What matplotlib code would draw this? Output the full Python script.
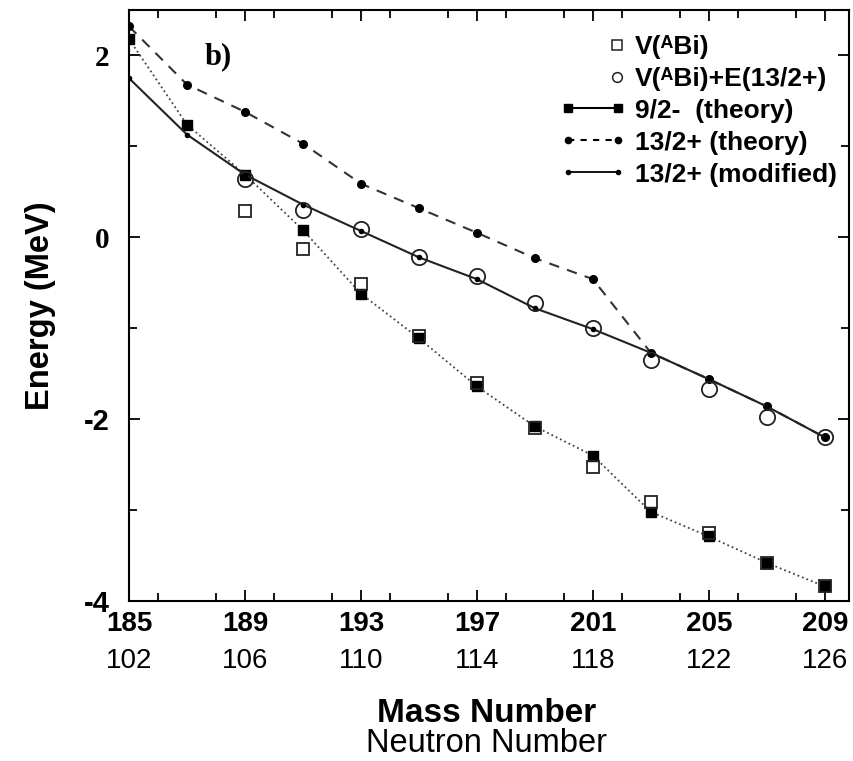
import numpy as np
import matplotlib
matplotlib.use("Agg")
import matplotlib.pyplot as plt
import matplotlib.transforms as mtransforms
from matplotlib.lines import Line2D
from matplotlib.legend_handler import HandlerLine2D
from matplotlib.ticker import MultipleLocator

plt.rcParams["font.family"] = ["Liberation Sans", "DejaVu Sans"]

# mass numbers of the Bi isotopes and the matching neutron numbers
mass = [185, 187, 189, 191, 193, 195, 197, 199, 201, 203, 205, 207, 209]
mass_exp = [189, 191, 193, 195, 197, 199, 201, 203, 205, 207, 209]
tick_mass = [185, 189, 193, 197, 201, 205, 209]
tick_neutron = [102, 106, 110, 114, 118, 122, 126]

# energies in MeV
e_92_theory = [2.18, 1.24, 0.69, 0.08, -0.62, -1.11, -1.64, -2.08, -2.40,
               -3.02, -3.29, -3.58, -3.84]
e_132_theory = [2.32, 1.68, 1.38, 1.03, 0.59, 0.32, 0.05, -0.23, -0.46,
                -1.27, -1.56, -1.86, -2.20]
e_132_mod = [1.75, 1.13, 0.69, 0.36, 0.07, -0.22, -0.46, -0.78, -1.01,
             -1.27, -1.56, -1.86, -2.20]
v_bi = [0.29, -0.13, -0.51, -1.09, -1.60, -2.10, -2.53, -2.91, -3.25,
        -3.58, -3.83]
v_bi_e = [0.64, 0.30, 0.09, -0.22, -0.43, -0.72, -1.00, -1.35, -1.67,
          -1.98, -2.20]

fig = plt.figure(figsize=(8.54, 7.61), dpi=100)
ax = fig.add_axes([0.151, 0.2102, 0.843, 0.7767])

ax.plot(mass, e_92_theory, ls=":", color="#444444", lw=1.3,
        marker="s", ms=7, mfc="black", mec="black", zorder=3)
ax.plot(mass, e_132_theory, ls=(0, (5, 4)), color="#333333", lw=1.5,
        marker="o", ms=5.5, mfc="black", mec="black", zorder=3)
ax.plot(mass, e_132_mod, ls="-", color="#222222", lw=1.5,
        marker="o", ms=3, mfc="black", mec="black", zorder=3)
ax.plot(mass_exp, v_bi, ls="none", marker="s", ms=9, mfc="none",
        mec="#222222", mew=1.3, zorder=4)
ax.plot(mass_exp, v_bi_e, ls="none", marker="o", ms=11, mfc="none",
        mec="#222222", mew=1.3, zorder=4)

ax.set_xlim(185, 209.83)
ax.set_ylim(-4, 2.5)

ax.xaxis.set_major_locator(MultipleLocator(4))
ax.xaxis.set_minor_locator(MultipleLocator(2))
ax.yaxis.set_major_locator(MultipleLocator(2))
ax.yaxis.set_minor_locator(MultipleLocator(1))
ax.tick_params(which="both", direction="in", top=True, right=True, width=1.3)
ax.tick_params(which="major", length=8)
ax.tick_params(which="minor", length=6)
for s in ax.spines.values():
    s.set_linewidth(1.5)

ax.set_xticks(tick_mass)
ax.set_xticklabels([str(m) for m in tick_mass], fontsize=20,
                   fontweight="bold")
ax.tick_params(axis="x", pad=7)
for n, m in zip(tick_neutron, tick_mass):
    ax.text(m, -0.102, str(n), fontsize=20, ha="center", va="center",
            transform=mtransforms.blended_transform_factory(ax.transData,
                                                           ax.transAxes))

ax.set_yticks([-4, -2, 0, 2])
ax.set_yticklabels(["-4", "-2", "0", "2"], fontsize=21, fontweight="bold")
ax.tick_params(axis="y", pad=14)
for lab in ax.get_yticklabels():
    if not lab.get_text().startswith("-"):
        lab.set_family("Liberation Serif")

ax.set_ylabel("Energy (MeV)", fontsize=23.5, fontweight="bold", labelpad=20)
fig.text(0.57, 1 - 713 / 761, "Mass Number", fontsize=24,
         fontweight="bold", ha="center", va="center")
fig.text(0.57, 1 - 743 / 761, "Neutron Number", fontsize=23.5,
         ha="center", va="center")

ax.text(0.124, 0.921, "b)", transform=ax.transAxes, fontsize=22,
        fontweight="bold", family="Liberation Serif", ha="center",
        va="center")


class MarkerAtEnd(HandlerLine2D):
    # single marker placed at the right end of the handle
    def get_xdata(self, legend, xdescent, ydescent, width, height, fontsize):
        x = np.array([width - xdescent - 6.0] * 2)
        return x, x


h_sq = Line2D([], [], ls="none", marker="s", ms=7, mfc="none",
              mec="#222222", mew=1.1)
h_ci = Line2D([], [], ls="none", marker="o", ms=7, mfc="none",
              mec="#222222", mew=1.1)
h_92 = Line2D([], [], ls="-", color="black", lw=1.5, marker="s", ms=6,
              mfc="black")
h_132 = Line2D([], [], ls=(0, (3, 3)), color="black", lw=1.5, marker="o",
               ms=4.5, mfc="black")
h_mod = Line2D([], [], ls="-", color="black", lw=1.3, marker="o", ms=3,
               mfc="black")

leg = ax.legend([h_sq, h_ci, h_92, h_132, h_mod],
                ["V(\u1d2cBi)", "V(\u1d2cBi)+E(13/2+)", "9/2-  (theory)",
                 "13/2+ (theory)", "13/2+ (modified)"],
                handler_map={h_sq: MarkerAtEnd(numpoints=1),
                             h_ci: MarkerAtEnd(numpoints=1)},
                loc="upper right", bbox_to_anchor=(1.0, 0.978),
                frameon=False, numpoints=2, handlelength=2.5,
                handletextpad=0.35, labelspacing=0.3, borderaxespad=0.05,
                prop={"size": 19, "weight": "bold"})
for t in leg.get_texts():
    t.set_family(["Liberation Sans", "DejaVu Sans"])

fig.savefig("out.png", dpi=100)
